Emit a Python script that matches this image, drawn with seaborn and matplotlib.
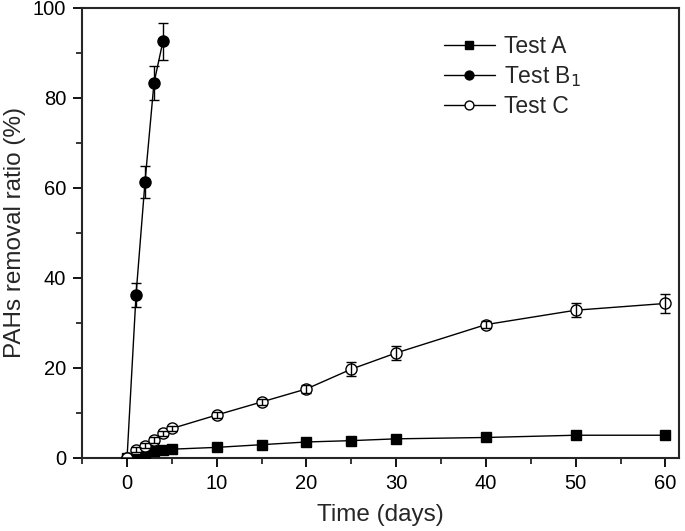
import numpy as np
import pandas as pd
import seaborn as sns
import matplotlib.pyplot as plt
from matplotlib.ticker import MultipleLocator

# sampling days
days_a = [0, 1, 2, 3, 4, 5, 10, 15, 20, 25, 30, 40, 50, 60]
days_b = [0, 1, 2, 3, 4]
days_c = [0, 1, 2, 3, 4, 5, 10, 15, 20, 25, 30, 40, 50, 60]

# removal ratio (%)
test_a = [0, 0.8, 1.1, 1.4, 1.7, 1.9, 2.3, 2.9, 3.5, 3.8, 4.2, 4.5, 5.0, 5.0]
test_b1 = [0, 36.2, 61.3, 83.3, 92.6]
test_c = [0, 1.8, 2.7, 3.9, 5.4, 6.5, 9.5, 12.4, 15.3, 19.7, 23.3, 29.6, 32.8, 34.3]

# standard deviations
err_a = [0, 0.1, 0.1, 0.1, 0.1, 0.1, 0.2, 0.2, 0.2, 0.2, 0.2, 0.2, 0.2, 0.2]
err_b1 = [0, 2.6, 3.5, 3.7, 4.1]
err_c = [0, 0.6, 0.6, 0.6, 0.6, 0.6, 0.6, 0.6, 0.9, 1.6, 1.5, 0.8, 1.6, 2.2]

df = pd.concat([
    pd.DataFrame({'day': days_a, 'ratio': test_a, 'err': err_a, 'test': 'Test A'}),
    pd.DataFrame({'day': days_b, 'ratio': test_b1, 'err': err_b1, 'test': 'Test B$_1$'}),
    pd.DataFrame({'day': days_c, 'ratio': test_c, 'err': err_c, 'test': 'Test C'}),
])

sns.set_style('ticks')
plt.rcParams['font.family'] = ['Liberation Sans', 'DejaVu Sans']

fig = plt.figure(figsize=(6.85, 5.31), dpi=100)
ax = fig.add_axes([0.12, 0.138, 0.871, 0.847])

styles = {
    'Test A': dict(marker='s', mfc='black', ms=7.5),
    'Test B$_1$': dict(marker='o', mfc='black', ms=8),
    'Test C': dict(marker='o', mfc='white', ms=8),
}

for name, sub in df.groupby('test', sort=False):
    st = styles[name]
    sns.lineplot(data=sub, x='day', y='ratio', ax=ax, color='black', lw=1,
                 marker=st['marker'], markersize=st['ms'], markerfacecolor=st['mfc'],
                 markeredgecolor='black', markeredgewidth=1, label=name,
                 errorbar=None, zorder=3)
    ax.errorbar(sub['day'], sub['ratio'], yerr=sub['err'], fmt='none',
                ecolor='black', elinewidth=1, capsize=3.5, capthick=1, zorder=4)

ax.set_xlim(-5, 61.5)
ax.set_ylim(0, 100)
ax.xaxis.set_major_locator(MultipleLocator(10))
ax.xaxis.set_minor_locator(MultipleLocator(5))
ax.yaxis.set_major_locator(MultipleLocator(20))
ax.yaxis.set_minor_locator(MultipleLocator(10))
ax.tick_params(which='major', direction='out', length=6.5, width=1.3, labelsize=14.5,
               colors='black', pad=5)
ax.tick_params(which='minor', direction='out', length=4, width=1.3)
for sp in ax.spines.values():
    sp.set_linewidth(1.5)
    sp.set_visible(True)

ax.set_xlabel('Time (days)', fontsize=17.5, labelpad=8)
ax.set_ylabel('PAHs removal ratio (%)', fontsize=17.5, labelpad=5)

leg = ax.legend(loc='upper left', bbox_to_anchor=(0.572, 0.985), frameon=False, fontsize=16.5,
                handlelength=2.2, handletextpad=0.4, labelspacing=0.25, markerscale=0.8)

fig.savefig('out.png', dpi=100)
